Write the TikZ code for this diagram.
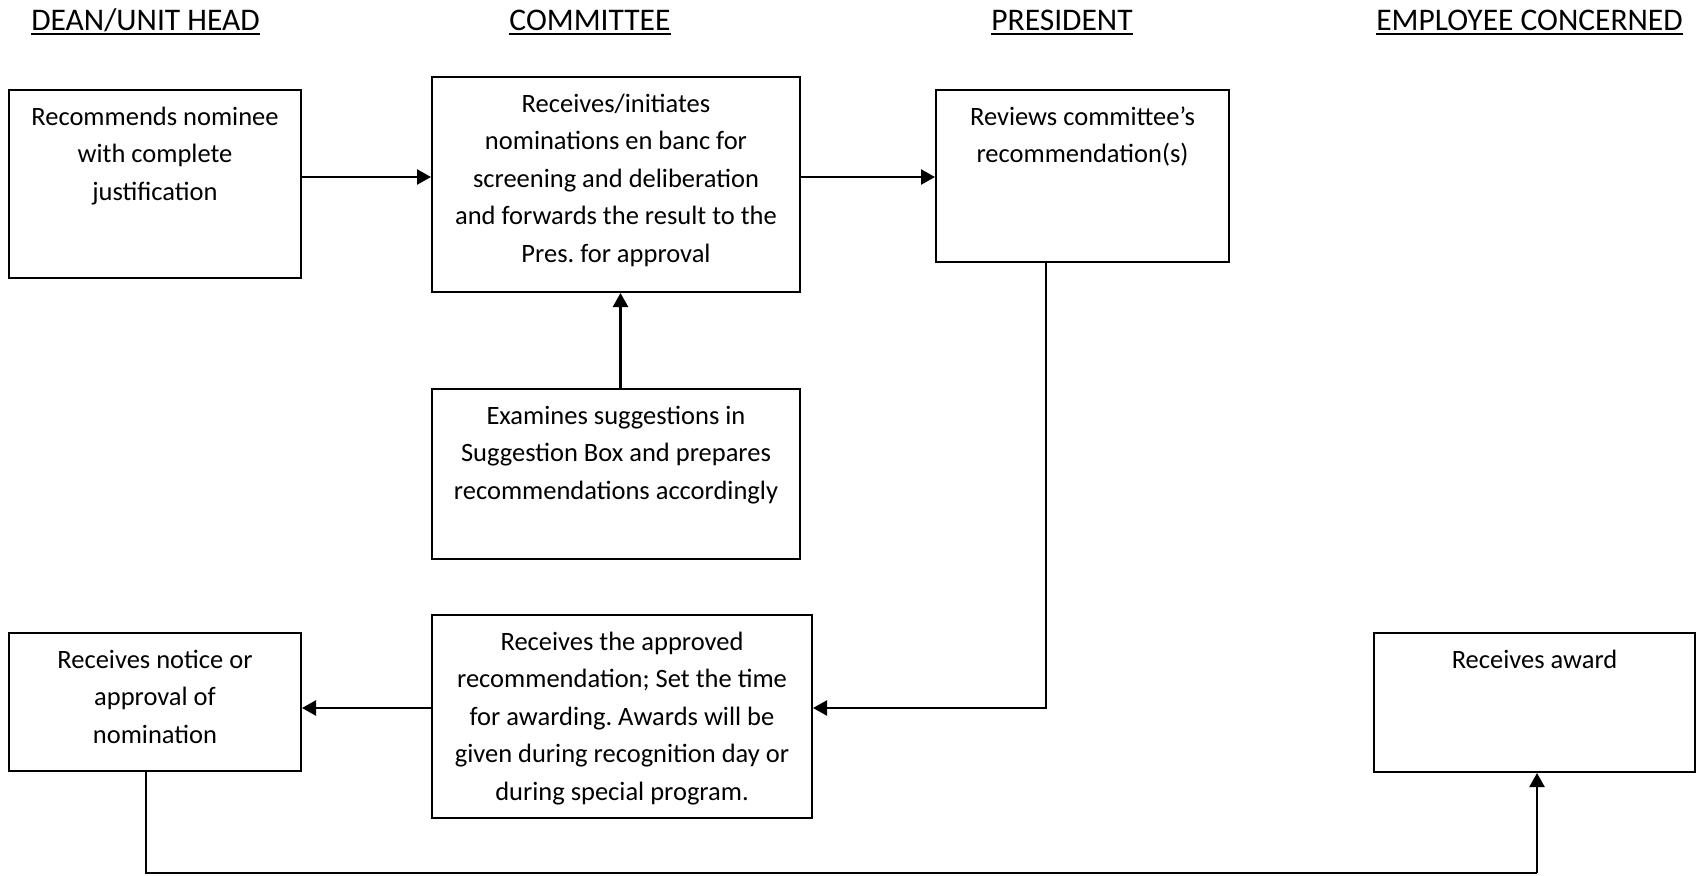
\documentclass[tikz,border=0pt]{standalone}
\usepackage{fontspec}
\setmainfont{Carlito}
\usetikzlibrary{arrows.meta}
\frenchspacing
% centred lines of a box text; the first line carries the baseline
\newcommand{\boxlines}[1]{\fontsize{26.5}{37.5}\selectfont\begin{tabular}[t]{@{}c@{}}#1\end{tabular}}
\begin{document}
\begin{tikzpicture}[x=1pt,y=-1pt,
  box/.style={draw, line width=2pt, inner sep=0pt, anchor=north west},
  txt/.style={anchor=base, inner sep=0pt},
  head/.style={anchor=base, inner sep=0pt, font=\fontsize{31.5}{36}\selectfont},
  flow/.style={line width=2.6pt, -{Triangle[length=14pt,width=15pt]}},
  thin flow/.style={line width=2.2pt, -{Triangle[length=14pt,width=15pt]}},
  link/.style={line width=2.2pt}]
\useasboundingbox (0,0) rectangle (1696,875);

% column headings
\node[head] (h1) at (145.5,30.5) {DEAN/UNIT HEAD};
\node[head] (h2) at (590,30.5) {COMMITTEE};
\node[head] (h3) at (1062,30.5) {PRESIDENT};
\node[head] (h4) at (1529.5,30.5) {EMPLOYEE CONCERNED};
\foreach \h in {h1,h2,h3,h4}
  \draw[line width=1.9pt] ([yshift=-3.5pt]\h.base west) -- ([yshift=-3.5pt]\h.base east);

% boxes
\node[box, minimum width=292pt, minimum height=188pt] (A) at (8,89) {};
\node[box, minimum width=368pt, minimum height=215pt] (B) at (431,76) {};
\node[box, minimum width=293pt, minimum height=172pt] (C) at (935,89) {};
\node[box, minimum width=368pt, minimum height=170pt] (D) at (431,388) {};
\node[box, minimum width=292pt, minimum height=138pt] (E) at (8,632) {};
\node[box, minimum width=380pt, minimum height=203pt] (F) at (431,614) {};
\node[box, minimum width=321pt, minimum height=139pt] (G) at (1373,632) {};

% box texts
\node[txt] (tA) at ([yshift=-36pt]A.north) {\boxlines{Recommends nominee\\with complete\\justification}};
\node[txt] (tB) at ([yshift=-36pt]B.north) {\boxlines{Receives/initiates\\nominations en banc for\\screening and deliberation\\and forwards the result to the\\Pres. for approval}};
\node[txt] (tC) at ([yshift=-36pt]C.north) {\boxlines{Reviews committee’s\\recommendation(s)}};
\node[txt] (tD) at ([yshift=-36pt]D.north) {\boxlines{Examines suggestions in\\Suggestion Box and prepares\\recommendations accordingly}};
\node[txt] (tE) at ([yshift=-36pt]E.north) {\boxlines{Receives notice or\\approval of\\nomination}};
\node[txt] (tF) at ([yshift=-36pt]F.north) {\boxlines{Receives the approved\\recommendation; Set the time\\for awarding. Awards will be\\given during recognition day or\\during special program.}};
\node[txt] (tG) at ([yshift=-36pt]G.north) {\boxlines{Receives award}};

% routing points
\coordinate (r1) at (0,177);
\coordinate (r2) at (0,708);
\coordinate (cx) at (1046,0);
\coordinate (dx) at (620.5,0);
\coordinate (ex) at (146,0);
\coordinate (gx) at (1537,0);
\coordinate (bl) at (146,873);
\coordinate (br) at (1537,873);

% connectors
\draw[flow] (A.east |- r1) -- (B.west |- r1);
\draw[flow] (B.east |- r1) -- (C.west |- r1);
\draw[flow] (D.north -| dx) -- (B.south -| dx);
\draw[thin flow] (C.south -| cx) -- (cx |- r2) -- (F.east |- r2);
\draw[flow] (F.west |- r2) -- (E.east |- r2);
\draw[link] (E.south -| ex) -- (bl) -- (br);
\draw[thin flow] (br) -- (G.south -| gx);
\end{tikzpicture}
\end{document}
